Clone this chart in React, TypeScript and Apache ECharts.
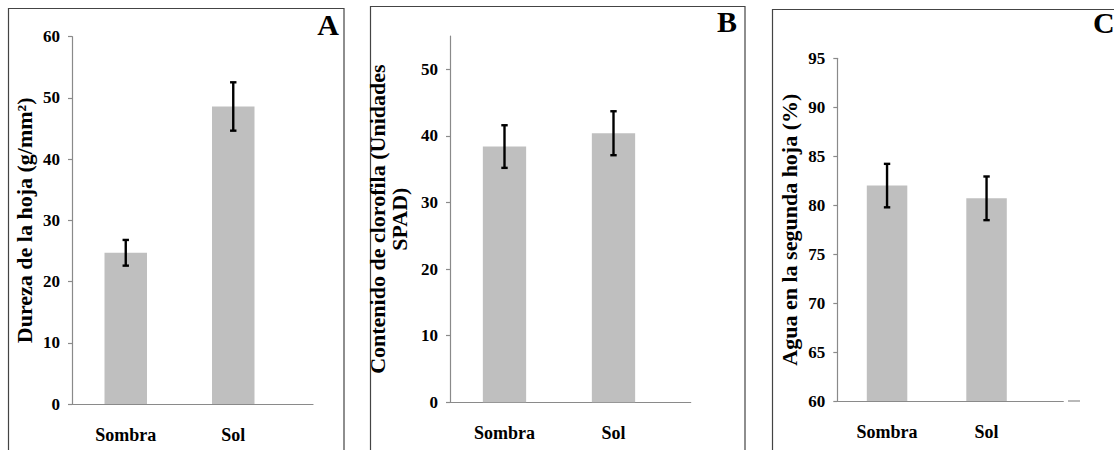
import React, { useEffect, useRef } from "react";
import * as echarts from "echarts";

const categories = ["Sombra", "Sol"];
const durezaMeans = [24.7, 48.6];
const durezaErrors = [2.1, 3.95];
const clorofilaMeans = [38.4, 40.4];
const clorofilaErrors = [3.2, 3.3];
const aguaMeans = [82.0, 80.7];
const aguaErrors = [2.22, 2.23];
const durezaTicks = [0, 10, 20, 30, 40, 50, 60];
const clorofilaTicks = [0, 10, 20, 30, 40, 50];
const aguaTicks = [60, 65, 70, 75, 80, 85, 90, 95];
const panelLetters = ["A", "B", "C"];

const FONT = '"Liberation Serif", "Times New Roman", serif';
const AXIS_GRAY = "#8a8a8a";

type Panel = {
  name: string;
  means: number[];
  errors: number[];
  ticks: number[];
  yMin: number;
  yMax: number;
  interval: number;
  grid: { left: number; top: number; width: number; height: number };
  xMax: number;
  barWidth: number;
  nameGap: number;
};

const panels: Panel[] = [
  {
    name: "Dureza de la hoja (g/mm²)",
    means: durezaMeans,
    errors: durezaErrors,
    ticks: durezaTicks,
    yMin: 0,
    yMax: 60,
    interval: 10,
    grid: { left: 72, top: 36.7, width: 241, height: 367.3 },
    xMax: 241 / 107.5,
    barWidth: 42.5,
    nameGap: 37,
  },
  {
    name: "Contenido de clorofila (Unidades\nSPAD)",
    means: clorofilaMeans,
    errors: clorofilaErrors,
    ticks: clorofilaTicks,
    yMin: 0,
    yMax: 55,
    interval: 10,
    grid: { left: 450, top: 36, width: 240.7, height: 366.3 },
    xMax: 240.7 / 109,
    barWidth: 43.3,
    nameGap: 40,
  },
  {
    name: "Agua en la segunda hoja (%)",
    means: aguaMeans,
    errors: aguaErrors,
    ticks: aguaTicks,
    yMin: 60,
    yMax: 95,
    interval: 5,
    grid: { left: 837.3, top: 58.3, width: 226, height: 342.7 },
    xMax: 226 / 99.5,
    barWidth: 40.5,
    nameGap: 37,
  },
];

export default function App() {
  const ref = useRef<HTMLDivElement>(null);

  useEffect(() => {
    if (!ref.current) return;
    const chart = echarts.init(ref.current, null, { renderer: "svg" });

    const positions = categories.map((_, i) => i + 0.5);

    const grids = panels.map((p) => ({ ...p.grid, containLabel: false }));
    const xAxes = panels.map((p, i) => ({
      type: "value",
      gridIndex: i,
      min: 0,
      max: p.xMax,
      axisLine: { show: true, onZero: false, lineStyle: { color: AXIS_GRAY, width: 1.2 } },
      axisTick: { show: false },
      splitLine: { show: false },
      axisLabel: {
        customValues: positions,
        formatter: (v: number) => categories[Math.round(v - 0.5)] ?? "",
        margin: 22,
        color: "#000",
        fontFamily: FONT,
        fontWeight: "bold",
        fontSize: 18,
      },
    }));
    const yAxes = panels.map((p, i) => ({
      type: "value",
      gridIndex: i,
      min: p.yMin,
      max: p.yMax,
      interval: p.interval,
      name: p.name,
      nameLocation: "middle",
      nameRotate: 90,
      nameGap: p.nameGap,
      nameTextStyle: {
        fontFamily: FONT,
        fontWeight: "bold",
        fontSize: 22,
        color: "#000",
        lineHeight: 22,
      },
      axisLine: { show: true, lineStyle: { color: AXIS_GRAY, width: 1.2 } },
      axisTick: {
        show: true,
        inside: false,
        length: 4,
        customValues: p.ticks,
        lineStyle: { color: AXIS_GRAY, width: 1.2 },
      },
      splitLine: { show: false },
      axisLabel: {
        customValues: p.ticks,
        margin: 12,
        color: "#000",
        fontFamily: FONT,
        fontWeight: "bold",
        fontSize: 17,
      },
    }));

    const series: any[] = [];
    panels.forEach((p, i) => {
      series.push({
        type: "bar",
        xAxisIndex: i,
        yAxisIndex: i,
        barWidth: p.barWidth,
        itemStyle: { color: "#bfbfbf" },
        data: p.means.map((m, k) => [positions[k], m]),
      });
      series.push({
        type: "custom",
        xAxisIndex: i,
        yAxisIndex: i,
        z: 5,
        data: p.means.map((m, k) => [positions[k], m, p.errors[k]]),
        renderItem: (_params: any, api: any) => {
          const x = api.value(0);
          const m = api.value(1);
          const e = api.value(2);
          const top = api.coord([x, m + e]);
          const bot = api.coord([x, m - e]);
          const cap = 3.2;
          const st = { stroke: "#000", lineWidth: 2.4 };
          return {
            type: "group",
            children: [
              { type: "line", shape: { x1: top[0], y1: top[1], x2: bot[0], y2: bot[1] }, style: st },
              { type: "line", shape: { x1: top[0] - cap, y1: top[1], x2: top[0] + cap, y2: top[1] }, style: st },
              { type: "line", shape: { x1: bot[0] - cap, y1: bot[1], x2: bot[0] + cap, y2: bot[1] }, style: st },
            ],
          };
        },
      });
    });

    const borderStyle = { fill: "none", stroke: "#444", lineWidth: 1.2 };
    const graphic: any[] = [
      { type: "rect", shape: { x: 8.5, y: 8.5, width: 335.5, height: 500 }, style: borderStyle, silent: true },
      { type: "rect", shape: { x: 370.5, y: 6.5, width: 374.5, height: 500 }, style: borderStyle, silent: true },
      { type: "rect", shape: { x: 772.5, y: 9.5, width: 400, height: 500 }, style: borderStyle, silent: true },
      { type: "line", shape: { x1: 1068, y1: 401, x2: 1080, y2: 401 }, style: { stroke: AXIS_GRAY, lineWidth: 1.2 }, silent: true },
      {
        type: "text",
        x: 339,
        y: 9,
        style: { text: panelLetters[0], textAlign: "right", textVerticalAlign: "top", font: `bold 30px ${FONT}`, fill: "#000" },
      },
      {
        type: "text",
        x: 737,
        y: 6,
        style: { text: panelLetters[1], textAlign: "right", textVerticalAlign: "top", font: `bold 30px ${FONT}`, fill: "#000" },
      },
      {
        type: "text",
        x: 1093,
        y: 7,
        style: { text: panelLetters[2], textAlign: "left", textVerticalAlign: "top", font: `bold 30px ${FONT}`, fill: "#000" },
      },
    ];

    chart.setOption({
      animation: false,
      backgroundColor: "#fff",
      grid: grids,
      xAxis: xAxes,
      yAxis: yAxes,
      series,
      graphic,
    });

    return () => chart.dispose();
  }, []);

  return (
    <div
      ref={ref}
      style={{ position: "fixed", left: 0, top: 0, width: 1114, height: 450, background: "#fff" }}
    />
  );
}
